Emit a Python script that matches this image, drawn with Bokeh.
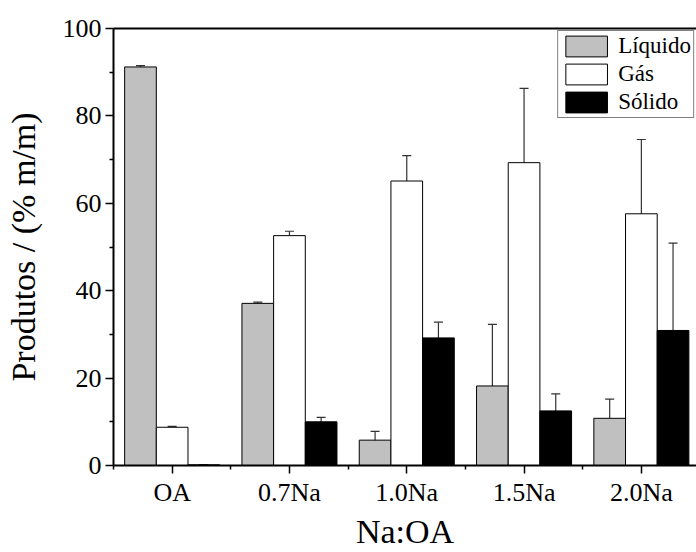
from bokeh.plotting import figure
from bokeh.models import (ColumnDataSource, Whisker, TeeHead, FixedTicker,
                          LinearAxis, Range1d, Legend, LegendItem)
from bokeh.transform import dodge
from bokeh.embed import file_html
from bokeh.resources import INLINE

# ---- data ----
categories = ["OA", "0.7Na", "1.0Na", "1.5Na", "2.0Na"]
liquido = [91.2, 37.1, 5.8, 18.2, 10.8]
liquido_err = [0.3, 0.3, 2.0, 14.1, 4.4]
gas = [8.75, 52.6, 65.1, 69.3, 57.6]
gas_err = [0.2, 1.0, 5.8, 17.0, 17.0]
solido = [0.15, 10.0, 29.2, 12.5, 30.9]
solido_err = [0.05, 1.0, 3.6, 3.9, 20.0]
series_names = ["Líquido", "Gás", "Sólido"]
y_ticks = [0, 20, 40, 60, 80, 100]
y_minor = [10, 30, 50, 70, 90]

FONT = "Liberation Serif"
x = list(range(len(categories)))

data = dict(x=x)
for key, vals, errs in (("liq", liquido, liquido_err),
                        ("gas", gas, gas_err),
                        ("sol", solido, solido_err)):
    data[key] = vals
    data[key + "_up"] = [v + e for v, e in zip(vals, errs)]
    data[key + "_lo"] = [v - e for v, e in zip(vals, errs)]
src = ColumnDataSource(data)

p = figure(width=696, height=552, output_backend="svg", toolbar_location=None,
           x_range=Range1d(-0.5, 4.47), y_range=Range1d(0, 100),
           min_border_left=113, min_border_right=0, min_border_top=28,
           min_border_bottom=86)
p.outline_line_color = None
p.grid.grid_line_color = None
p.background_fill_color = "white"
p.border_fill_color = "white"

W = 0.27
styles = [("liq", -W, "#c0c0c0"), ("gas", 0.0, "#ffffff"), ("sol", W, "#000000")]
items = []
for (key, off, col), name in zip(styles, series_names):
    r = p.vbar(x=dodge("x", off), top=key, width=W, bottom=0, source=src,
               fill_color=col, line_color="#000000", line_width=1)
    items.append(LegendItem(label=name, renderers=[r]))
for key, off, col in styles:
    wc = "#333333"
    w = Whisker(source=src, base=dodge("x", off), upper=key + "_up",
                lower=key + "_lo", line_color=wc, line_width=1.2,
                upper_head=TeeHead(size=9, line_color=wc, line_width=1.2),
                lower_head=TeeHead(size=9, line_color=wc, line_width=1.2))
    p.add_layout(w)

# axes
xa = p.xaxis[0]
xa.ticker = FixedTicker(ticks=x, minor_ticks=[-0.5, 0.5, 1.5, 2.5, 3.5, 4.5])
xa.major_label_overrides = {i: c for i, c in zip(x, categories)}
ya = p.yaxis[0]
ya.ticker = FixedTicker(ticks=y_ticks, minor_ticks=y_minor)
for ax in (xa, ya):
    ax.axis_line_width = 2
    ax.axis_line_color = "#000000"
    ax.major_tick_line_width = 1.5
    ax.minor_tick_line_width = 1.5
    ax.major_tick_in = 0
    ax.major_tick_out = 8
    ax.minor_tick_in = 0
    ax.minor_tick_out = 4
    ax.major_label_text_font = FONT
    ax.major_label_text_font_size = "26px"
    ax.major_label_text_color = "#000000"
    ax.axis_label_text_font = FONT
    ax.axis_label_text_font_size = "34px"
    ax.axis_label_text_font_style = "normal"
    ax.axis_label_text_color = "#000000"
    ax.major_label_standoff = 4
xa.axis_label = "Na:OA"
ya.axis_label = "Produtos / (% m/m)"
xa.axis_label_standoff = 3
ya.axis_label_standoff = 18

top = LinearAxis(ticker=FixedTicker(ticks=[]), axis_line_width=2,
                 major_tick_line_color=None, minor_tick_line_color=None)
p.add_layout(top, "above")

lg = Legend(items=items, location="top_right", margin=2,
            border_line_color="#000000", border_line_width=1,
            background_fill_color="white", background_fill_alpha=1,
            label_text_font=FONT, label_text_font_size="23px",
            label_text_color="#000000",
            glyph_width=52, glyph_height=26, label_height=26,
            label_standoff=6, spacing=2, padding=2)
p.add_layout(lg, "center")

open("out.html", "w").write(file_html(p, INLINE))
